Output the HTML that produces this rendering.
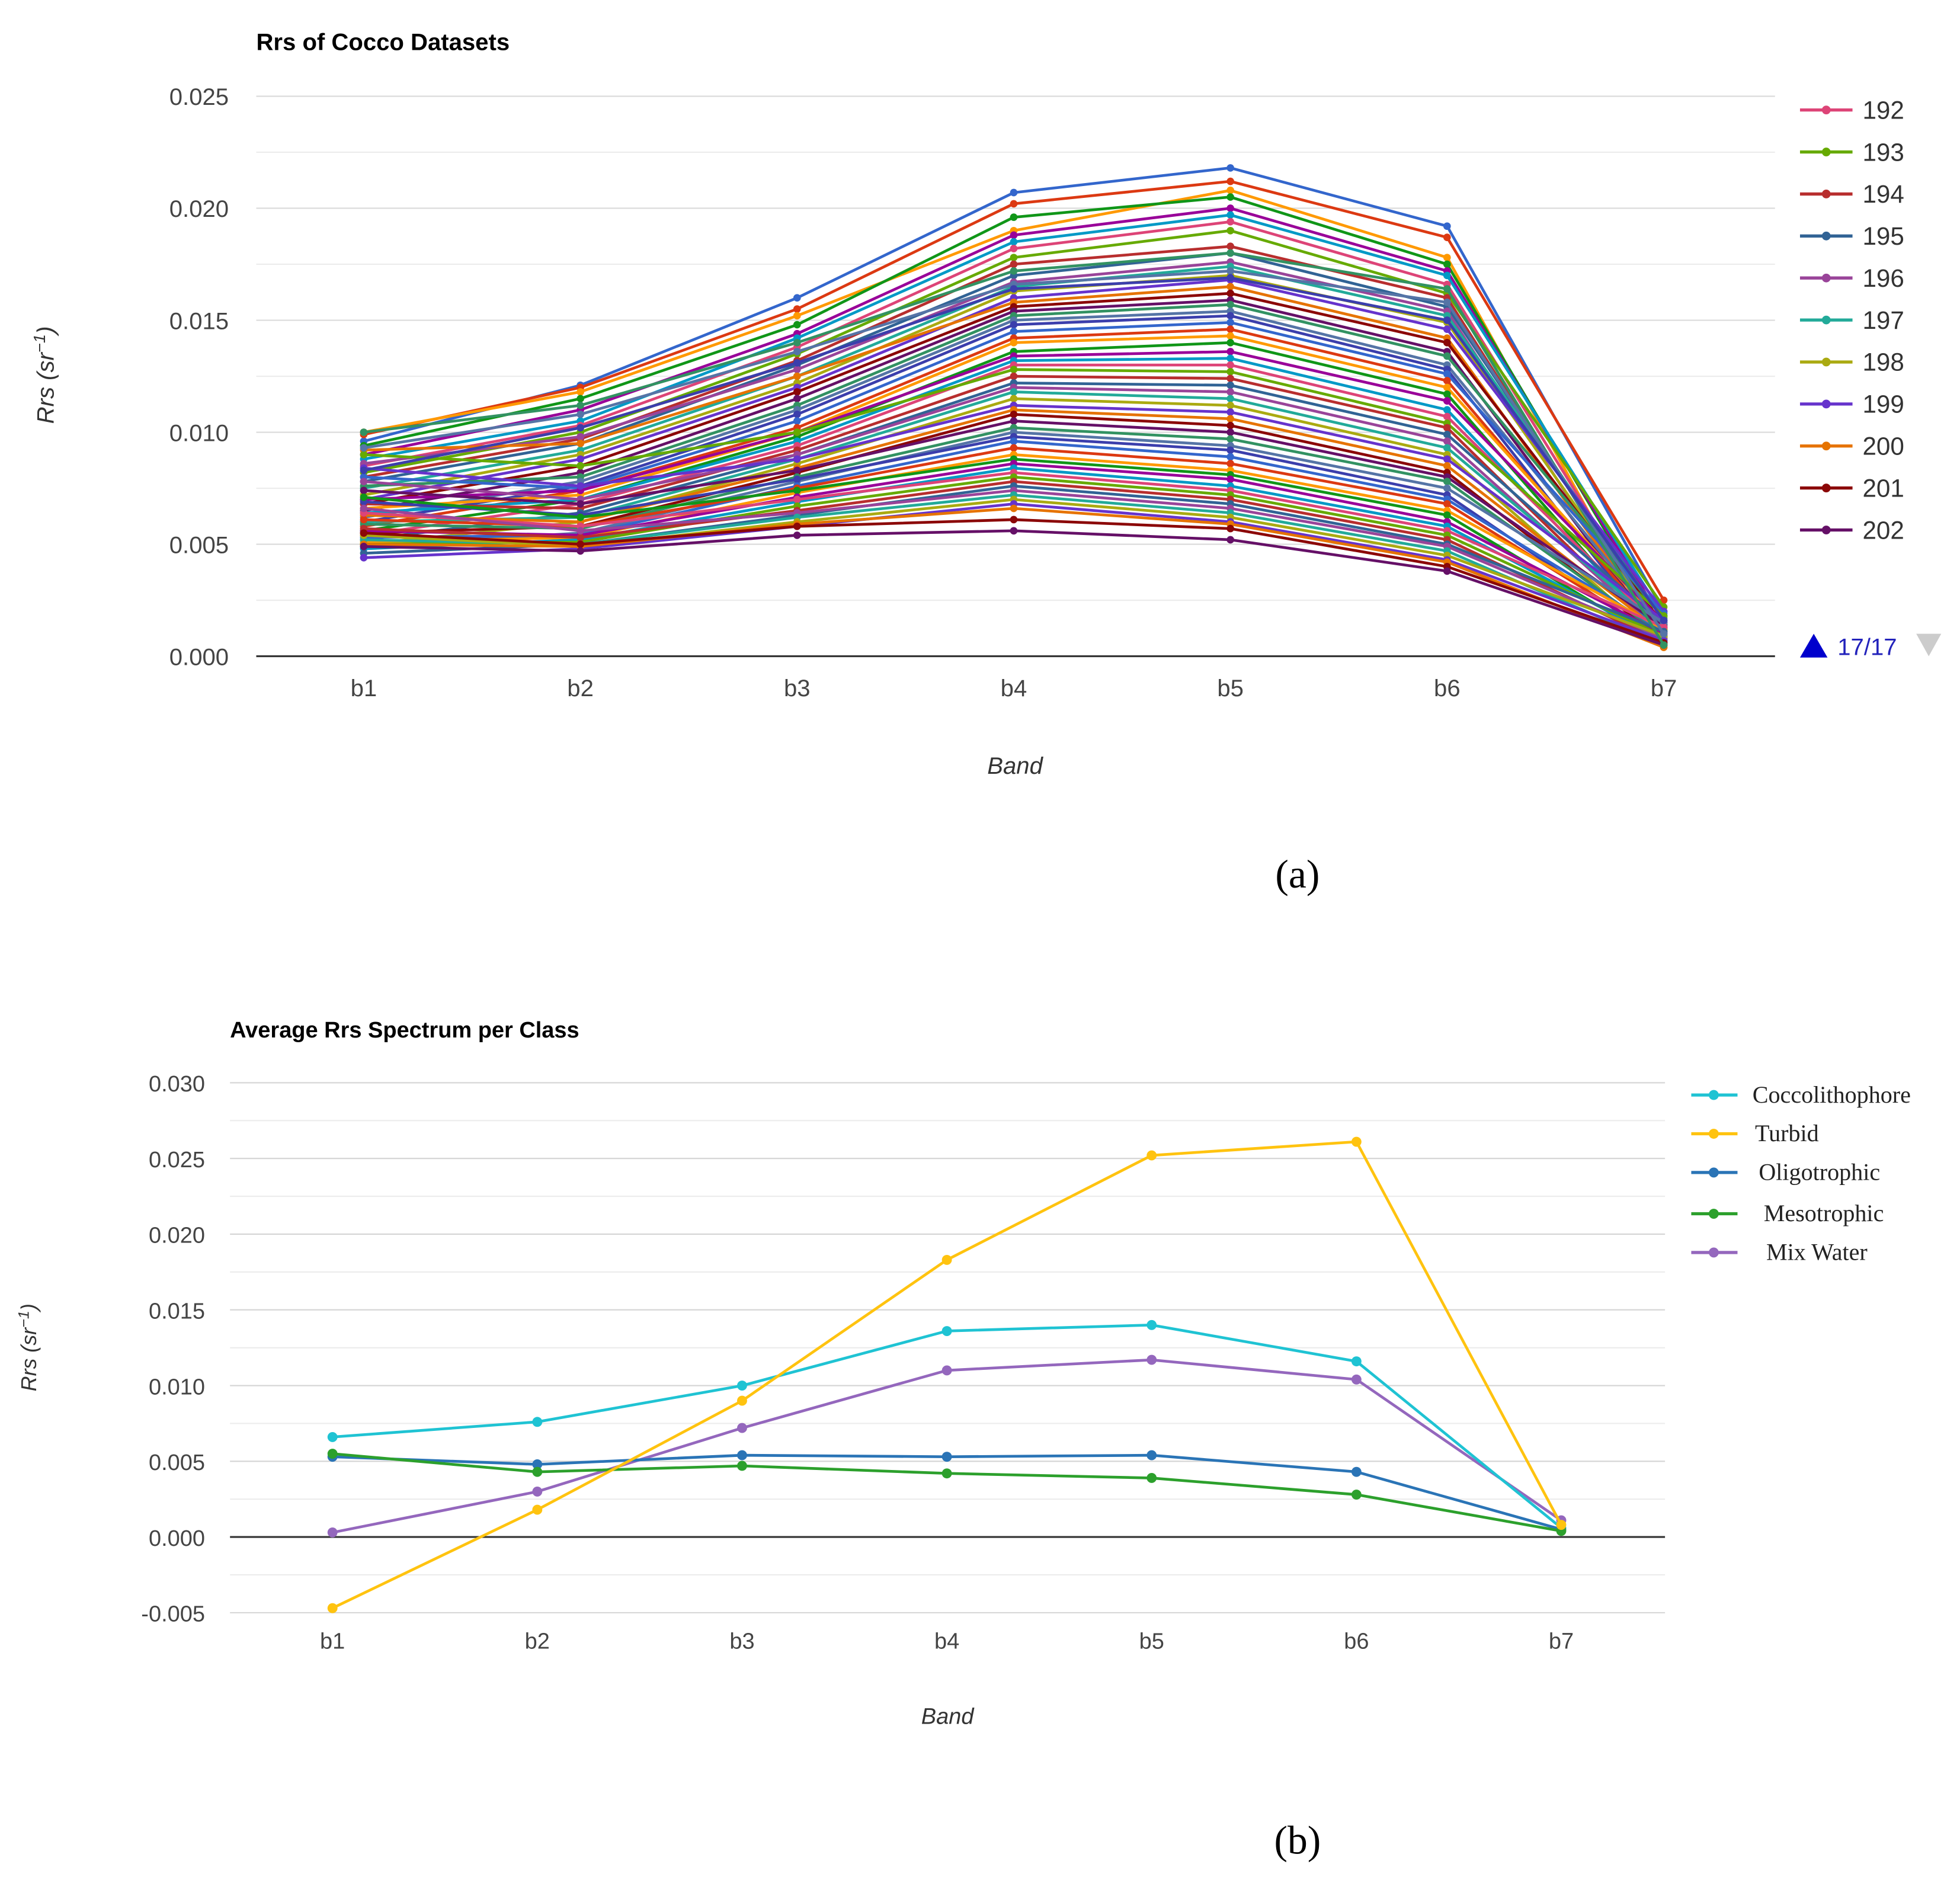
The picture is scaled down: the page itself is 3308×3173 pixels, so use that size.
<!DOCTYPE html>
<html><head><meta charset="utf-8"><title>Rrs charts</title>
<style>html,body{margin:0;padding:0;background:#fff;}svg{display:block;}</style>
</head><body>
<svg id="fig" width="3308" height="3173" viewBox="0 0 1568 1504" preserveAspectRatio="none" xmlns="http://www.w3.org/2000/svg" font-family="Liberation Sans, Arial, sans-serif">
</svg>
<script>
// ---------- Chart (a) data (units of 1e-3 sr^-1) ----------
const bandsA = ["b1","b2","b3","b4","b5","b6","b7"];
const yTicksA = [0, 0.005, 0.010, 0.015, 0.020, 0.025];
const legendA = ["192","193","194","195","196","197","198","199","200","201","202"];
const seriesA = [
[9.6,12.1,16.0,20.7,21.8,19.2,2.0],[9.9,12.0,15.5,20.2,21.2,18.7,2.5],[10.0,11.8,15.2,19.0,20.8,17.8,0.4],
[9.4,11.5,14.8,19.6,20.5,17.5,1.2],[9.0,11.0,14.4,18.8,20.0,17.2,1.5],[8.8,10.5,14.2,18.5,19.7,17.0,1.8],
[8.5,10.3,13.8,18.2,19.4,16.6,1.0],[8.2,10.0,13.5,17.8,19.0,16.2,2.2],[8.0,9.7,13.2,17.5,18.3,16.0,0.8],
[7.8,9.5,13.0,17.0,18.0,15.6,1.3],[8.6,9.8,12.8,16.7,17.6,15.4,0.6],[7.5,9.2,12.5,16.5,17.4,15.2,1.6],
[7.2,9.0,12.2,16.3,17.0,14.9,1.1],[7.0,8.8,12.0,16.0,16.8,14.6,2.0],[9.2,9.5,12.5,15.8,16.5,14.2,0.9],
[6.8,8.5,11.8,15.6,16.2,14.0,1.4],[6.5,8.2,11.5,15.4,15.9,13.6,0.7],[7.6,8.0,11.2,15.2,15.7,13.4,1.7],
[6.2,7.8,11.0,15.0,15.4,13.0,1.2],[6.0,7.6,10.8,14.8,15.2,12.8,0.5],[8.0,7.5,10.5,14.5,14.9,12.6,1.9],
[5.8,7.4,10.2,14.2,14.6,12.3,0.9],[6.6,7.2,10.0,14.0,14.3,12.0,1.3],[5.6,7.0,9.8,13.6,14.0,11.7,0.6],
[7.0,7.4,10.0,13.4,13.6,11.4,1.5],[6.4,7.0,9.6,13.2,13.3,11.0,0.8],[5.4,6.8,9.4,13.0,13.0,10.7,1.1],
[9.0,8.5,10.0,12.8,12.7,10.4,1.8],[6.8,6.6,9.2,12.5,12.4,10.2,0.7],[5.2,6.4,9.0,12.2,12.1,9.9,1.4],
[7.8,7.0,9.0,12.0,11.8,9.6,0.9],[6.0,6.2,8.8,11.8,11.5,9.3,1.2],[5.0,6.0,8.6,11.5,11.2,9.0,0.5],
[8.4,7.6,8.8,11.2,10.9,8.8,1.6],[6.3,6.0,8.4,11.0,10.6,8.5,1.0],[5.5,5.8,8.2,10.8,10.3,8.2,0.7],
[7.4,6.8,8.3,10.5,10.0,8.0,1.3],[5.9,5.7,8.0,10.2,9.7,7.8,0.9],[4.9,5.5,7.8,10.0,9.4,7.5,1.5],
[6.9,6.3,7.9,9.8,9.2,7.2,0.6],[5.3,5.4,7.6,9.6,8.9,7.0,1.1],[6.1,5.8,7.5,9.3,8.6,6.8,0.8],
[5.1,5.3,7.3,9.0,8.3,6.5,1.2],[7.1,6.2,7.4,8.8,8.1,6.3,0.5],[5.6,5.4,7.1,8.6,7.9,6.0,1.0],
[4.8,5.2,6.9,8.4,7.6,5.8,0.7],[6.4,5.8,7.0,8.2,7.4,5.6,1.3],[5.0,5.1,6.7,8.0,7.2,5.4,0.9],
[5.7,5.3,6.5,7.8,7.0,5.2,0.6],[4.6,5.0,6.3,7.6,6.8,5.0,1.1],[6.6,5.6,6.4,7.4,6.6,4.9,0.8],
[5.2,5.0,6.2,7.2,6.4,4.7,0.5],[5.4,4.9,6.0,7.0,6.2,4.5,0.9],[4.4,4.8,5.8,6.8,6.0,4.3,0.7],
[5.0,4.9,5.9,6.6,5.9,4.2,0.4],[5.5,5.0,5.8,6.1,5.7,4.0,0.6],[4.9,4.7,5.4,5.6,5.2,3.8,0.5],
[10.0,11.2,14.0,17.2,18.0,16.4,0.5],[9.3,10.8,13.6,16.6,17.2,15.8,1.0],[8.3,10.2,13.1,16.4,16.9,15.0,1.6]
];
// ---------- Chart (b) data (units of 1e-3 sr^-1) ----------
const bandsB = ["b1","b2","b3","b4","b5","b6","b7"];
const yTicksB = [-0.005, 0, 0.005, 0.010, 0.015, 0.020, 0.025, 0.030];
const classNames = ["Coccolithophore","Turbid","Oligotrophic","Mesotrophic","Mix Water"];
const coccoVals = [6.6,7.6,10.0,13.6,14.0,11.6,0.6];
const turbidVals = [-4.7,1.8,9.0,18.3,25.2,26.1,0.8];
const oligoVals = [5.3,4.8,5.4,5.3,5.4,4.3,0.5];
const mesoVals = [5.5,4.3,4.7,4.2,3.9,2.8,0.4];
const mixVals = [0.3,3.0,7.2,11.0,11.7,10.4,1.1];

const NS = "http://www.w3.org/2000/svg";
const svg = document.getElementById("fig");
function mk(tag, attrs, parent, text){
  const e = document.createElementNS(NS, tag);
  for (const k in attrs) e.setAttribute(k, attrs[k]);
  if (text !== undefined) e.textContent = text;
  (parent || svg).appendChild(e);
  return e;
}
const palette = ["#3366cc","#dc3912","#ff9900","#109618","#990099","#0099c6","#dd4477","#66aa00","#b82e2e","#316395","#994499","#22aa99","#aaaa11","#6633cc","#e67300","#8b0707","#651067","#329262","#5574a6","#3b3eac"];

// ================= Chart (a) =================
const gA = mk("g", {});


const xA = i => 291 + i * (1331 - 291) / 6;
const yA = v => 525 - v * (448 / 0.025);
let t = mk("text", {x:205, y:40, "font-size":19, "font-weight":"bold", fill:"#000"}, gA, "Rrs of Cocco Datasets");


for (let v = 0.0025; v <= 0.0251; v += 0.005) {
  const l = mk("line", {x1:205, x2:1420, y1:yA(v), y2:yA(v), stroke:"#ececec", "stroke-width":1}, gA);
  
  
}
yTicksA.forEach(v => {
  const l = mk("line", {x1:205, x2:1420, y1:yA(v), y2:yA(v), stroke: v===0 ? "#333" : "#d9d9d9", "stroke-width": v===0 ? 1.5 : 1}, gA);
  
  
  const tx = mk("text", {x:183, y:yA(v)+7, "font-size":19, fill:"#444", "text-anchor":"end"}, gA, v.toFixed(3));
  
  
});
bandsA.forEach((b, i) => {
  const tx = mk("text", {x:xA(i), y:557, "font-size":19, fill:"#444", "text-anchor":"middle"}, gA, b);
  
  
});
t = mk("text", {x:812, y:619, "font-size":19, "font-style":"italic", fill:"#333", "text-anchor":"middle"}, gA, "Band");


t = mk("text", {x:0, y:0, "font-size":19, "font-style":"italic", fill:"#333", "text-anchor":"middle", transform:"translate(43,300) rotate(-90)"}, gA);


t.innerHTML = 'Rrs (sr<tspan dy="-7" font-size="13">−1</tspan><tspan dy="7">)</tspan>';
seriesA.forEach((s, k) => {
  const c = palette[k % palette.length];
  const g = mk("g", {}, gA);
  
  
  const pts = s.map((v, i) => xA(i).toFixed(1) + "," + yA(v/1000).toFixed(1)).join(" ");
  mk("polyline", {points:pts, fill:"none", stroke:c, "stroke-width":2.2}, g);
  s.forEach((v, i) => {
    const p = mk("circle", {cx:xA(i), cy:yA(v/1000), r:3, fill:c}, g);
    
    
  });
});
legendA.forEach((name, k) => {
  const c = palette[(k + 6) % palette.length];
  const y = 88 + k * 33.6;
  const g = mk("g", {}, gA);
  
  
  mk("line", {x1:1440, x2:1482, y1:y, y2:y, stroke:c, "stroke-width":2.5}, g);
  mk("circle", {cx:1461, cy:y, r:3.5, fill:c}, g);
  mk("text", {x:1490, y:y+7, "font-size":20, fill:"#333"}, g, name);
});
t = mk("polygon", {points:"1440,526 1451,507 1462,526", fill:"#0000cc"}, gA);


t = mk("text", {x:1470, y:524, "font-size":19, fill:"#2222bb"}, gA, "17/17");


t = mk("polygon", {points:"1533,507 1553,507 1543,525", fill:"#cccccc"}, gA);


t = mk("text", {x:1038, y:710, "font-size":32, fill:"#000", "text-anchor":"middle", "font-family":"Liberation Serif, serif"}, gA, "(a)");



// ================= Chart (b) =================
const gB = mk("g", {});


const xB = i => 266 + i * (1249 - 266) / 6;
const yB = v => 1229.6 - v * (60.57 / 0.005);
t = mk("text", {x:184, y:830, "font-size":18, "font-weight":"bold", fill:"#000"}, gB, "Average Rrs Spectrum per Class");


for (let v = -0.0025; v <= 0.0276; v += 0.005) {
  const l = mk("line", {x1:184, x2:1332, y1:yB(v), y2:yB(v), stroke:"#ececec", "stroke-width":1}, gB);
  
  
}
yTicksB.forEach(v => {
  const l = mk("line", {x1:184, x2:1332, y1:yB(v), y2:yB(v), stroke: Math.abs(v)<1e-9 ? "#333" : "#d4d4d4", "stroke-width": Math.abs(v)<1e-9 ? 1.5 : 1}, gB);
  
  
  const tx = mk("text", {x:164, y:yB(v)+7, "font-size":18, fill:"#444", "text-anchor":"end"}, gB, Math.abs(v)<1e-9 ? "0.000" : v.toFixed(3));
  
  
});
bandsB.forEach((b, i) => {
  const tx = mk("text", {x:xB(i), y:1319, "font-size":18, fill:"#444", "text-anchor":"middle"}, gB, b);
  
  
});
t = mk("text", {x:758, y:1379, "font-size":18, "font-style":"italic", fill:"#333", "text-anchor":"middle"}, gB, "Band");


t = mk("text", {x:0, y:0, "font-size":17, "font-style":"italic", fill:"#333", "text-anchor":"middle", transform:"translate(29,1078) rotate(-90)"}, gB);


t.innerHTML = 'Rrs (sr<tspan dy="-6" font-size="12">−1</tspan><tspan dy="6">)</tspan>';
const classVals = [coccoVals, turbidVals, oligoVals, mesoVals, mixVals];
const classColors = ["#1fc3d3","#ffc30f","#2a74b6","#2ca02c","#9467bd"];
const drawOrder = [4, 0, 2, 3, 1];
drawOrder.forEach(k => {
  const s = classVals[k], c = classColors[k];
  const g = mk("g", {}, gB);
  
  
  const pts = s.map((v, i) => xB(i).toFixed(1) + "," + yB(v/1000).toFixed(1)).join(" ");
  mk("polyline", {points:pts, fill:"none", stroke:c, "stroke-width":2.2}, g);
  s.forEach((v, i) => {
    const p = mk("circle", {cx:xB(i), cy:yB(v/1000), r:4, fill:c}, g);
    
    
  });
});
const legYs = [876, 907, 938, 971, 1002];
const legXs = [1402, 1404, 1407, 1411, 1413];
classNames.forEach((name, k) => {
  const c = classColors[k], y = legYs[k];
  const g = mk("g", {}, gB);
  
  
  mk("line", {x1:1353, x2:1390, y1:y, y2:y, stroke:c, "stroke-width":2.5}, g);
  mk("circle", {cx:1371, cy:y, r:4, fill:c}, g);
  mk("text", {x:legXs[k], y:y+6, "font-size":19, fill:"#222", "font-family":"Liberation Serif, serif"}, g, name);
});
t = mk("text", {x:1038, y:1483, "font-size":32, fill:"#000", "text-anchor":"middle", "font-family":"Liberation Serif, serif"}, gB, "(b)");


</script>
</body></html>
